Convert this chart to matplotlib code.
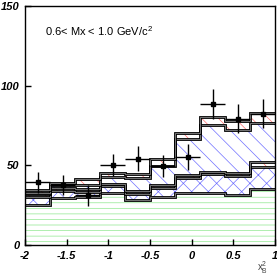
import numpy as np
import matplotlib.pyplot as plt

plt.rcParams['font.family'] = ['Liberation Sans', 'DejaVu Sans']
plt.rcParams['mathtext.default'] = 'regular'
plt.rcParams['hatch.linewidth'] = 0.5

# bin edges in x_B^2
edges = [-2.0, -1.7, -1.4, -1.1, -0.8, -0.5, -0.2, 0.1, 0.4, 0.7, 1.0]

# stacked histogram boundaries (bottom to top)
green_top = [25, 29.5, 30, 33, 28.5, 30.5, 32.5, 33, 31.5, 35]
cross_top = [30.5, 34, 33.5, 37, 32, 36, 42, 44.5, 43.5, 49]
red1_top = [32, 36, 35.5, 38.5, 34, 38, 44, 46, 45, 52]
diag_top = [33, 37.5, 38, 43, 42, 49.5, 66.5, 75.5, 72.5, 76.5]
red2_top = [34.5, 39, 41.5, 45.5, 44.5, 54, 70.5, 80.5, 78, 83]

# data points
x_data = [-1.85, -1.55, -1.25, -0.95, -0.65, -0.35, -0.05, 0.25, 0.55, 0.85]
y_data = [39.6, 38, 31.3, 50.4, 54.2, 49.6, 55.2, 88.5, 79.2, 82.3]
y_err = [6.6, 6.3, 6.5, 7, 7.8, 7, 8, 9.4, 9.2, 9]
x_err = [0.15] * 10

fig = plt.figure(figsize=(2.77, 2.77), dpi=100)
ax = fig.add_axes([0.0903, 0.1144, 0.9025, 0.865])

zero = [0] * 10
layers = [
    (zero, green_top, '#8fe88f', '---'),
    (green_top, cross_top, '#7070ff', 'xx'),
    (cross_top, red1_top, '#ff7070', '\\\\'),
    (red1_top, diag_top, '#7070ff', '\\\\'),
    (diag_top, red2_top, '#ff7070', '\\\\'),
]
for low, high, col, hat in layers:
    ax.stairs(high, edges, baseline=low, fill=True, facecolor='none',
              edgecolor=col, hatch=hat, linewidth=0)

for vals in [green_top, cross_top, red1_top, diag_top, red2_top]:
    ax.stairs(vals, edges, baseline=None, color='black', linewidth=2.0)
    ax.stairs(vals, edges, baseline=None, color='#888888', linewidth=0.6)

ax.errorbar(x_data, y_data, xerr=x_err, yerr=y_err, fmt='s', color='black',
            markersize=2.5, elinewidth=1.0, capsize=0)

ax.set_xlim(-2, 1)
ax.set_ylim(0, 150)
ax.set_xticks([-2, -1.5, -1, -0.5, 0, 0.5, 1])
ax.set_xticklabels(['-2', '-1.5', '-1', '-0.5', '0', '0.5', '1'])
ax.set_yticks([0, 50, 100, 150])
ax.tick_params(direction='in', length=4, width=1, labelsize=8, pad=4)
for lab in ax.get_xticklabels() + ax.get_yticklabels():
    lab.set_fontweight('bold')
    lab.set_fontstyle('italic')
for sp in ax.spines.values():
    sp.set_linewidth(1.0)

ax.text(-1.76, 134, r'0.6< Mx < 1.0 GeV/c$^2$', fontsize=8, va='center')
ax.text(0.95, -0.095, r'x$_B^2$', transform=ax.transAxes, fontsize=7,
        color='#444444', ha='center', va='center')

fig.savefig('out.png', dpi=100)
